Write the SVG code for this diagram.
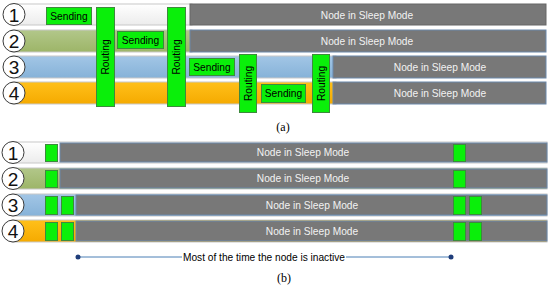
<svg xmlns="http://www.w3.org/2000/svg" width="550" height="287" viewBox="0 0 550 287">
<defs>
<linearGradient id="gW" x1="0" y1="0" x2="0" y2="1"><stop offset="0" stop-color="#ffffff"/><stop offset="1" stop-color="#ececec"/></linearGradient>
<linearGradient id="gG" x1="0" y1="0" x2="0" y2="1"><stop offset="0" stop-color="#b2c78a"/><stop offset="1" stop-color="#9db568"/></linearGradient>
<linearGradient id="gB" x1="0" y1="0" x2="0" y2="1"><stop offset="0" stop-color="#a2c6e6"/><stop offset="1" stop-color="#86b2d8"/></linearGradient>
<linearGradient id="gO" x1="0" y1="0" x2="0" y2="1"><stop offset="0" stop-color="#ffc01a"/><stop offset="1" stop-color="#f5aa00"/></linearGradient>
</defs>
<style>
.row{stroke:#c8c8c8;stroke-width:1}
.gray{fill:#787878;stroke:#6b88aa;stroke-width:1}
.grn{fill:#0aef0a;stroke:#3d8a3d;stroke-width:1}
.circ{fill:#ffffff;stroke:#3a3a3a;stroke-width:1}
.num{font-family:"Liberation Sans",Arial,sans-serif;font-size:19px;fill:#111;text-anchor:middle}
.lbl{font-family:"Liberation Sans",Arial,sans-serif;font-size:10.2px;fill:#000;text-anchor:middle}
.sl{font-family:"Liberation Sans",Arial,sans-serif;font-size:10.2px;fill:#f2f2f2;text-anchor:middle}
.cap{font-family:"Liberation Serif","Times New Roman",serif;font-size:12px;fill:#000;text-anchor:middle}
</style>
<rect width="550" height="287" fill="#ffffff"/>

<!-- (a) -->
<g id="a-row1">
<rect class="row" x="12" y="4" width="180" height="21" fill="url(#gW)"/>
<rect class="gray" x="190" y="4" width="356" height="21" style="stroke:#666"/>
<text class="sl" x="367" y="18.5">Node in Sleep Mode</text>
<circle class="circ" cx="14" cy="14.5" r="11"/>
<text class="num" x="14" y="21.5">1</text>
</g>
<g id="a-row2">
<rect class="row" x="12" y="30" width="180" height="22" fill="url(#gG)"/>
<rect class="gray" x="190" y="30" width="356" height="22"/>
<text class="sl" x="367" y="45">Node in Sleep Mode</text>
<circle class="circ" cx="14" cy="41" r="11"/>
<text class="num" x="14" y="48">2</text>
</g>
<g id="a-row3">
<rect class="row" x="12" y="56" width="324" height="22" fill="url(#gB)"/>
<rect class="gray" x="333" y="56" width="213" height="22"/>
<text class="sl" x="440" y="71">Node in Sleep Mode</text>
<circle class="circ" cx="14" cy="67" r="11"/>
<text class="num" x="14" y="74">3</text>
</g>
<g id="a-row4">
<rect class="row" x="12" y="82" width="324" height="22" fill="url(#gO)"/>
<rect class="gray" x="333" y="82" width="213" height="22"/>
<text class="sl" x="440" y="97">Node in Sleep Mode</text>
<circle class="circ" cx="14" cy="93" r="11"/>
<text class="num" x="14" y="100">4</text>
</g>
<g id="a-send1"><rect class="grn" x="46.5" y="7.5" width="45" height="17"/><text class="lbl" x="69" y="19.5">Sending</text></g>
<g id="a-send2"><rect class="grn" x="117.5" y="31.5" width="46" height="17"/><text class="lbl" x="140.5" y="43.5">Sending</text></g>
<g id="a-send3"><rect class="grn" x="189.5" y="58.5" width="45" height="17"/><text class="lbl" x="212" y="70.5">Sending</text></g>
<g id="a-send4"><rect class="grn" x="261.5" y="84.5" width="44" height="18"/><text class="lbl" x="283.5" y="97">Sending</text></g>
<g id="a-rout1"><rect class="grn" x="96.5" y="7.5" width="18" height="99"/><text class="lbl" transform="translate(109,57) rotate(-90)">Routing</text></g>
<g id="a-rout2"><rect class="grn" x="167.5" y="7.5" width="18" height="99"/><text class="lbl" transform="translate(180,57) rotate(-90)">Routing</text></g>
<g id="a-rout3"><rect class="grn" x="239.5" y="54.5" width="17" height="58"/><text class="lbl" transform="translate(251.5,83.5) rotate(-90)">Routing</text></g>
<g id="a-rout4"><rect class="grn" x="312.5" y="54.5" width="17" height="58"/><text class="lbl" transform="translate(324.5,83.5) rotate(-90)">Routing</text></g>
<text class="cap" x="283" y="131">(a)</text>

<!-- (b) -->
<g id="b-row1">
<rect class="row" x="12" y="142" width="535" height="21" fill="url(#gW)"/>
<rect class="gray" x="60" y="143" width="487" height="19"/>
<text class="sl" x="303" y="156">Node in Sleep Mode</text>
<rect class="grn" x="45.5" y="144.5" width="12" height="17"/>
<rect class="grn" x="453.5" y="144.5" width="12" height="17"/>
<circle class="circ" cx="13" cy="152.5" r="11"/>
<text class="num" x="13" y="159.5">1</text>
</g>
<g id="b-row2">
<rect class="row" x="12" y="168" width="535" height="21" fill="url(#gG)"/>
<rect class="gray" x="60" y="169" width="487" height="19"/>
<text class="sl" x="303" y="182">Node in Sleep Mode</text>
<rect class="grn" x="45.5" y="170.5" width="12" height="17"/>
<rect class="grn" x="453.5" y="170.5" width="12" height="17"/>
<circle class="circ" cx="13" cy="178.5" r="11"/>
<text class="num" x="13" y="185.5">2</text>
</g>
<g id="b-row3">
<rect class="row" x="12" y="194" width="535" height="22" fill="url(#gB)"/>
<rect class="gray" x="76" y="195" width="471" height="20"/>
<text class="sl" x="312" y="209">Node in Sleep Mode</text>
<rect class="grn" x="45.5" y="196.5" width="12" height="18"/>
<rect class="grn" x="61.5" y="196.5" width="12" height="18"/>
<rect class="grn" x="453.5" y="196.5" width="12" height="18"/>
<rect class="grn" x="469.5" y="196.5" width="12" height="18"/>
<circle class="circ" cx="13" cy="205" r="11"/>
<text class="num" x="13" y="212">3</text>
</g>
<g id="b-row4">
<rect class="row" x="12" y="220" width="535" height="22" fill="url(#gO)"/>
<rect class="gray" x="76" y="221" width="471" height="20"/>
<text class="sl" x="312" y="235">Node in Sleep Mode</text>
<rect class="grn" x="45.5" y="222.5" width="12" height="18"/>
<rect class="grn" x="61.5" y="222.5" width="12" height="18"/>
<rect class="grn" x="453.5" y="222.5" width="12" height="18"/>
<rect class="grn" x="469.5" y="222.5" width="12" height="18"/>
<circle class="circ" cx="13" cy="231" r="11"/>
<text class="num" x="13" y="238">4</text>
</g>

<g id="connectors">
<line x1="78" y1="257" x2="182" y2="257" stroke="#4a7fb5" stroke-width="1"/>
<line x1="346" y1="257" x2="451" y2="257" stroke="#4a7fb5" stroke-width="1"/>
<circle cx="78" cy="257" r="2.5" fill="#1f3d7a"/>
<circle cx="451" cy="257" r="2.5" fill="#1f3d7a"/>
</g>
<text class="lbl" x="264" y="261" textLength="162" lengthAdjust="spacingAndGlyphs">Most of the time the node is inactive</text>
<text class="cap" x="284" y="282">(b)</text>
</svg>
